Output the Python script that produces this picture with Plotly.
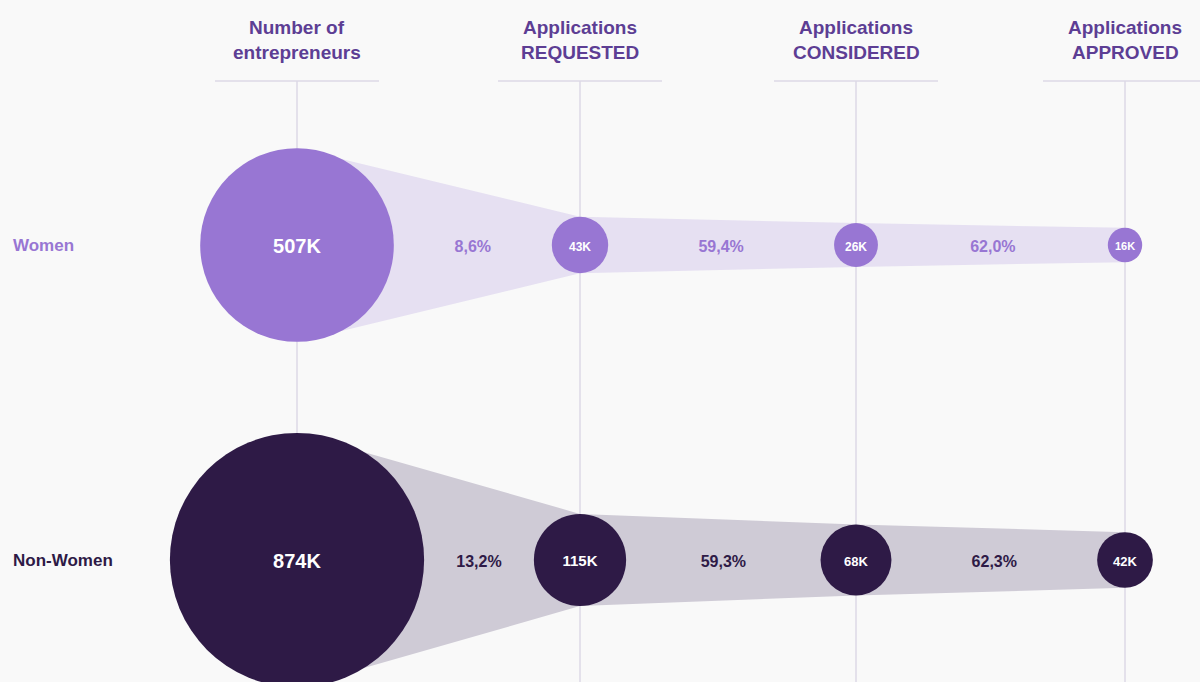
import math
import plotly.graph_objects as go

# ---------------- data ----------------
stages = ["Number of<br>entrepreneurs", "Applications<br>REQUESTED",
          "Applications<br>CONSIDERED", "Applications<br>APPROVED"]
groups = ["Women", "Non-Women"]
women_k = [507, 43, 26, 16]          # thousands
nonwomen_k = [874, 115, 68, 42]      # thousands
women_pct = ["8,6%", "59,4%", "62,0%"]
nonwomen_pct = ["13,2%", "59,3%", "62,3%"]

# ---------------- layout / style ----------------
W, H = 1200, 682
COL_X = [297, 580, 856, 1125]
ROW_Y = [245, 560]
TEXT_DY = 2.5
R_SCALE = 4.3                     # radius px per sqrt(thousand)
CIRCLE_COL = ["#9876d3", "#2e1a46"]
BAND_COL = ["#e6e0f2", "#cfcbd6"]
TEXT_COL = ["#9876d3", "#2e1a46"]
HEAD_COL = "#5d3e94"
GRID_COL = "#dcd8e6"
BG = "#f9f9f9"
FONT = "Liberation Sans, Arial, sans-serif"
LABEL_SIZES = [[20, 12, 12, 11], [20, 15, 13, 13]]

fig = go.Figure()

series = [women_k, nonwomen_k]
pcts = [women_pct, nonwomen_pct]

for g, (vals, pct) in enumerate(zip(series, pcts)):
    y0 = ROW_Y[g]
    radii = [R_SCALE * math.sqrt(v) for v in vals]
    # band polygon
    xs = COL_X + COL_X[::-1]
    ys = [y0 - r for r in radii] + [y0 + r for r in radii[::-1]]
    fig.add_trace(go.Scatter(x=xs + [xs[0]], y=ys + [ys[0]], mode="lines",
                             fill="toself", fillcolor=BAND_COL[g],
                             line=dict(width=0), hoverinfo="skip",
                             showlegend=False))
    # circles
    fig.add_trace(go.Scatter(
        x=COL_X, y=[y0] * len(vals), mode="markers",
        marker=dict(size=[2 * r for r in radii], sizemode="diameter",
                    color=CIRCLE_COL[g], line=dict(width=0), opacity=1),
        hoverinfo="skip", showlegend=False))
    fig.add_trace(go.Scatter(
        x=COL_X, y=[y0 + TEXT_DY] * len(vals), mode="text",
        text=[f"{v}K" for v in vals], textposition="middle center",
        textfont=dict(color="white", family=FONT,
                      size=LABEL_SIZES[g], weight="bold"),
        hoverinfo="skip", showlegend=False))
    # percentages between circle edges
    px = [((COL_X[i] + radii[i]) + (COL_X[i + 1] - radii[i + 1])) / 2
          for i in range(len(pct))]
    fig.add_trace(go.Scatter(
        x=px, y=[y0 + TEXT_DY] * len(pct), mode="text", text=pct,
        textposition="middle center",
        textfont=dict(color=TEXT_COL[g], family=FONT, size=16, weight="bold"),
        hoverinfo="skip", showlegend=False))
    # row label
    fig.add_annotation(x=11, y=y0, text=f"<b>{groups[g]}</b>", showarrow=False,
                       xanchor="left", yanchor="middle",
                       font=dict(color=TEXT_COL[g], family=FONT, size=17))

# headers, header rules, vertical guides
HALF = 82
for i, s in enumerate(stages):
    x = COL_X[i]
    l1, l2 = s.split("<br>")
    fig.add_annotation(x=x, y=27, text=f"<b>{l1}</b>", showarrow=False,
                       xanchor="center", yanchor="middle",
                       font=dict(color=HEAD_COL, family=FONT, size=19))
    fig.add_annotation(x=x, y=52, text=f"<b>{l2}</b>", showarrow=False,
                       xanchor="center", yanchor="middle",
                       font=dict(color=HEAD_COL, family=FONT, size=19))
    fig.add_shape(type="line", x0=x - HALF, x1=min(x + HALF, W), y0=81, y1=81,
                  line=dict(color=GRID_COL, width=1.5), layer="below")
    fig.add_shape(type="line", x0=x, x1=x, y0=81, y1=H,
                  line=dict(color=GRID_COL, width=1.5), layer="below")

fig.update_layout(
    width=W, height=H, margin=dict(l=0, r=0, t=0, b=0),
    paper_bgcolor=BG, plot_bgcolor=BG,
    xaxis=dict(range=[0, W], visible=False, fixedrange=True),
    yaxis=dict(range=[H, 0], visible=False, fixedrange=True),
    showlegend=False,
)

fig.write_html("out.html", config={"displayModeBar": False},
               post_script="document.body.style.margin='0';"
                           "document.body.style.background='#f9f9f9';"
                           "document.body.style.overflow='hidden';")
